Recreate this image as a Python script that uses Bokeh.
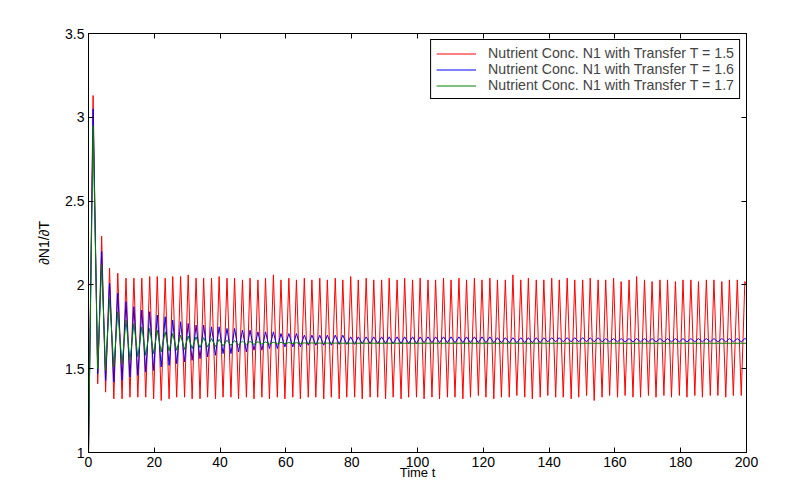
from bokeh.plotting import figure
from bokeh.models import LinearAxis, FixedTicker, NumeralTickFormatter, Legend, LegendItem, Range1d
from bokeh.embed import file_html
from bokeh.resources import INLINE

# Times of the local maxima / minima of N1 (shared by the three runs)
t_peak = [1.4, 4.0, 6.4, 8.9, 11.4, 13.8, 16.2, 18.6, 20.9, 23.3,
          25.6, 28.0, 30.3, 32.7, 35.0, 37.4, 39.7, 42.1, 44.4, 46.8,
          49.1, 51.5, 53.8, 56.2, 58.5, 60.9, 63.2, 65.6, 67.9, 70.3,
          72.6, 75.0, 77.3, 79.7, 82.0, 84.4, 86.7, 89.1, 91.4, 93.8,
          96.1, 98.5, 100.8, 103.2, 105.5, 107.9, 110.2, 112.6, 114.9, 117.3,
          119.6, 122.0, 124.3, 126.7, 129.0, 131.4, 133.7, 136.1, 138.4, 140.8,
          143.1, 145.5, 147.8, 150.2, 152.5, 154.9, 157.2, 159.6, 161.9, 164.3,
          166.6, 169.0, 171.3, 173.7, 176.0, 178.4, 180.7, 183.1, 185.4, 187.8,
          190.1, 192.5, 194.8, 197.2, 199.5]
t_trough = [2.8, 5.2, 7.7, 10.2, 12.6, 15.0, 17.4, 19.8, 22.1, 24.5,
            26.8, 29.2, 31.5, 33.9, 36.2, 38.6, 40.9, 43.3, 45.6, 48.0,
            50.3, 52.7, 55.0, 57.4, 59.7, 62.1, 64.4, 66.8, 69.1, 71.5,
            73.8, 76.2, 78.5, 80.9, 83.2, 85.6, 87.9, 90.3, 92.6, 95.0,
            97.3, 99.7, 102.0, 104.4, 106.7, 109.1, 111.4, 113.8, 116.1, 118.5,
            120.8, 123.2, 125.5, 127.9, 130.2, 132.6, 134.9, 137.3, 139.6, 142.0,
            144.3, 146.7, 149.0, 151.4, 153.7, 156.1, 158.4, 160.8, 163.1, 165.5,
            167.8, 170.2, 172.5, 174.9, 177.2, 179.6, 181.9, 184.3, 186.6, 189.0,
            191.3, 193.7, 196.0, 198.4]

# Transfer T = 1.5 (sustained oscillation)
red_peak = [3.13, 2.29, 2.10, 2.07, 2.04, 2.04, 2.04, 2.05, 2.05, 2.04,
            2.05, 2.05, 2.06, 2.04, 2.04, 2.04, 2.05, 2.04, 2.04, 2.03,
            2.04, 2.03, 2.04, 2.06, 2.03, 2.04, 2.03, 2.04, 2.03, 2.04,
            2.03, 2.04, 2.03, 2.05, 2.03, 2.04, 2.03, 2.03, 2.04, 2.03,
            2.04, 2.03, 2.04, 2.03, 2.03, 2.04, 2.03, 2.04, 2.03, 2.04,
            2.03, 2.04, 2.03, 2.03, 2.06, 2.03, 2.04, 2.03, 2.03, 2.04,
            2.03, 2.04, 2.03, 2.03, 2.04, 2.03, 2.03, 2.04, 2.02, 2.03,
            2.05, 2.03, 2.02, 2.03, 2.03, 2.02, 2.03, 2.03, 2.02, 2.03,
            2.03, 2.02, 2.03, 2.03, 2.02]
red_trough = [1.41, 1.36, 1.32, 1.32, 1.33, 1.33, 1.33, 1.32, 1.31, 1.32,
              1.33, 1.33, 1.32, 1.32, 1.33, 1.32, 1.33, 1.33, 1.32, 1.33,
              1.32, 1.33, 1.32, 1.33, 1.32, 1.33, 1.32, 1.33, 1.33, 1.32,
              1.33, 1.32, 1.33, 1.33, 1.32, 1.33, 1.33, 1.32, 1.33, 1.32,
              1.33, 1.33, 1.32, 1.33, 1.32, 1.33, 1.33, 1.32, 1.33, 1.34,
              1.33, 1.32, 1.33, 1.33, 1.34, 1.33, 1.32, 1.33, 1.34, 1.33,
              1.33, 1.32, 1.33, 1.34, 1.31, 1.33, 1.34, 1.33, 1.34, 1.33,
              1.33, 1.34, 1.33, 1.34, 1.33, 1.34, 1.33, 1.34, 1.33, 1.34,
              1.34, 1.33, 1.34, 1.34]

# Transfer T = 1.6 (slowly damped)
blue_peak = [3.05, 2.20, 2.01, 1.95, 1.90, 1.87, 1.85, 1.84, 1.82, 1.81,
             1.79, 1.78, 1.77, 1.76, 1.76, 1.75, 1.75, 1.74, 1.74, 1.73,
             1.73, 1.72, 1.72, 1.72, 1.71, 1.71, 1.71, 1.70, 1.70, 1.70,
             1.70, 1.70, 1.70, 1.69, 1.69, 1.69, 1.69, 1.69, 1.69, 1.69,
             1.69, 1.69, 1.69, 1.69, 1.69, 1.69, 1.69, 1.69, 1.69, 1.69,
             1.69, 1.69, 1.685, 1.685, 1.685, 1.685, 1.685, 1.685, 1.685, 1.685,
             1.685, 1.685, 1.685, 1.685, 1.685, 1.685, 1.68, 1.68, 1.68, 1.68,
             1.68, 1.68, 1.68, 1.68, 1.68, 1.68, 1.68, 1.68, 1.68, 1.68,
             1.68, 1.68, 1.68, 1.68, 1.68]
blue_trough = [1.47, 1.43, 1.42, 1.43, 1.45, 1.46, 1.48, 1.49, 1.51, 1.52,
               1.53, 1.54, 1.55, 1.56, 1.57, 1.58, 1.59, 1.59, 1.60, 1.60,
               1.61, 1.61, 1.62, 1.62, 1.63, 1.63, 1.63, 1.64, 1.64, 1.64,
               1.64, 1.645, 1.645, 1.645, 1.65, 1.65, 1.65, 1.65, 1.65, 1.65,
               1.65, 1.65, 1.655, 1.655, 1.655, 1.655, 1.655, 1.655, 1.655, 1.655,
               1.655, 1.655, 1.655, 1.655, 1.655, 1.655, 1.655, 1.655, 1.66, 1.66,
               1.66, 1.66, 1.66, 1.66, 1.66, 1.66, 1.66, 1.66, 1.66, 1.66,
               1.66, 1.66, 1.66, 1.66, 1.66, 1.66, 1.66, 1.66, 1.66, 1.66,
               1.66, 1.66, 1.66, 1.66]

# Transfer T = 1.7 (quickly damped, flat after t ~ 80)
green_peak = [2.95, 2.12, 1.92, 1.84, 1.79, 1.77, 1.75, 1.74, 1.73, 1.72,
              1.71, 1.70, 1.695, 1.69, 1.685, 1.68, 1.675, 1.67, 1.668, 1.665,
              1.663, 1.661, 1.66, 1.658, 1.657, 1.656, 1.655, 1.654, 1.654, 1.653,
              1.653, 1.653, 1.652, 1.652]
green_trough = [1.50, 1.49, 1.51, 1.53, 1.55, 1.57, 1.58, 1.59, 1.60, 1.605,
                1.61, 1.615, 1.62, 1.625, 1.63, 1.633, 1.636, 1.639, 1.641, 1.643,
                1.645, 1.646, 1.647, 1.648, 1.649, 1.65, 1.65, 1.651, 1.651, 1.651,
                1.652, 1.652, 1.652, 1.652]

t_start, t_end = 0.0, 200.0
start_value = 1.0
end_values = {"red": 2.00, "blue": 1.675, "green": 1.652}

labels = ["Nutrient Conc. N1 with Transfer T = 1.5",
          "Nutrient Conc. N1 with Transfer T = 1.6",
          "Nutrient Conc. N1 with Transfer T = 1.7"]

x_ticks = [0, 20, 40, 60, 80, 100, 120, 140, 160, 180, 200]
y_ticks = [1, 1.5, 2, 2.5, 3, 3.5]

assert len(red_peak) == len(t_peak) and len(red_trough) == len(t_trough)
assert len(blue_peak) == len(t_peak) and len(blue_trough) == len(t_trough)
assert len(green_peak) == len(green_trough)


def trace(v_peak, v_trough, v_end):
    """Join the start value, alternating extrema and end value into one path."""
    xs, ys = [t_start], [start_value]
    for i, vp in enumerate(v_peak):
        xs.append(t_peak[i])
        ys.append(vp)
        if i < len(v_trough):
            xs.append(t_trough[i])
            ys.append(v_trough[i])
    xs.append(t_end)
    ys.append(v_end)
    return xs, ys


FONT = "Liberation Sans"

p = figure(width=792, height=502, output_backend="svg", toolbar_location=None,
           x_range=Range1d(0, 200), y_range=Range1d(1, 3.5),
           min_border_left=88, min_border_right=46, min_border_top=33, min_border_bottom=50)
p.background_fill_color = "white"
p.border_fill_color = "white"
p.outline_line_color = "black"
p.outline_line_width = 1
p.grid.visible = False

series = [("red", "#ff0000", red_peak, red_trough),
          ("blue", "#0000ff", blue_peak, blue_trough),
          ("green", "#008000", green_peak, green_trough)]
renderers = []
for name, color, vp, vt in series:
    xs, ys = trace(vp, vt, end_values[name])
    renderers.append(p.line(xs, ys, line_color=color, line_width=1))


def style_axis(ax, ticks, show_labels):
    ax.ticker = FixedTicker(ticks=ticks)
    ax.minor_tick_line_color = None
    ax.major_tick_in = 5
    ax.major_tick_out = 0
    ax.axis_line_color = "black"
    ax.major_tick_line_color = "black"
    ax.major_label_text_font = FONT
    ax.major_label_text_font_size = "14px"
    ax.major_label_standoff = 4
    # the mirrored box axes carry ticks only
    ax.major_label_text_color = "black" if show_labels else None


xa = p.xaxis[0]
ya = p.yaxis[0]
style_axis(xa, x_ticks, True)
style_axis(ya, y_ticks, True)
ya.formatter = NumeralTickFormatter(format="0.[0]")

xa.axis_label = "Time t"
ya.axis_label = "∂N1/∂T"
for ax in (xa, ya):
    ax.axis_label_text_font = FONT
    ax.axis_label_text_font_style = "normal"
    ax.axis_label_text_color = "black"
xa.axis_label_text_font_size = "13px"
ya.axis_label_text_font_size = "14px"
xa.axis_label_standoff = -5
ya.axis_label_standoff = 10

top = LinearAxis()
right = LinearAxis()
p.add_layout(top, "above")
p.add_layout(right, "right")
style_axis(top, x_ticks, False)
style_axis(right, y_ticks, False)

legend = Legend(items=[LegendItem(label=lab, renderers=[r]) for lab, r in zip(labels, renderers)],
                location="top_right")
legend.border_line_color = "black"
legend.border_line_width = 1
legend.border_line_alpha = 1
legend.background_fill_color = "white"
legend.background_fill_alpha = 1
legend.label_text_font = FONT
legend.label_text_font_size = "14.2px"
legend.glyph_width = 40
legend.glyph_height = 13
legend.label_height = 13
legend.label_standoff = 12
legend.spacing = -2
legend.padding = 5
legend.margin = 6
p.add_layout(legend)

open("out.html", "w").write(file_html(p, INLINE))
